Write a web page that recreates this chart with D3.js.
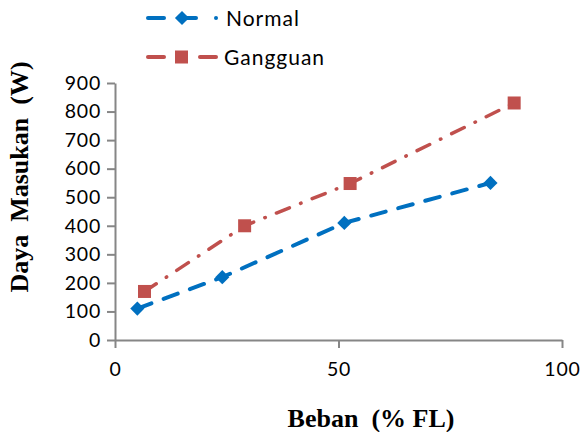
<!DOCTYPE html>
<html>
<head>
<meta charset="utf-8">
<script src="https://cdn.jsdelivr.net/npm/d3@7"></script>
<style>
  body { margin: 0; background: #fff; }
  .tick text { font-family: Lato, "Open Sans", sans-serif; font-size: 19.5px; letter-spacing: 0.8px; fill: #000; }
  .axis path, .axis line { stroke: #868686; stroke-width: 2; }
  .title { font-family: "Liberation Serif", "DejaVu Serif", serif; font-weight: bold; font-size: 26px; white-space: pre; }
</style>
</head>
<body>
<div id="chart"></div>
<script>
// values
var seriesNames = ["Normal", "Gangguan"];
var normalX = [5, 24, 51.3, 84];
var normalY = [110, 220, 410, 550];
var gangguanX = [6.6, 29, 52.6, 89.3];
var gangguanY = [170, 400, 548, 830];
var xTicks = [0, 50, 100];
var yTicks = [0, 100, 200, 300, 400, 500, 600, 700, 800, 900];

var width = 585, height = 432;
var margin = {top: 83, right: 23, bottom: 92, left: 115};

var svg = d3.select("#chart").append("svg")
    .attr("width", width)
    .attr("height", height);

var x = d3.scaleLinear().domain([0, 100]).range([margin.left, width - margin.right]);
var y = d3.scaleLinear().domain([0, 900]).range([height - margin.bottom, margin.top]);

// axes
svg.append("g")
    .attr("class", "axis")
    .attr("transform", "translate(0," + y(0) + ")")
    .call(d3.axisBottom(x).tickValues(xTicks).tickSize(8).tickPadding(14).tickSizeOuter(0))
    .call(function(g) { g.selectAll("text").attr("dy", "0.71em"); });

svg.append("g")
    .attr("class", "axis")
    .attr("transform", "translate(" + x(0) + ",0)")
    .call(d3.axisLeft(y).tickValues(yTicks).tickSize(8).tickPadding(6).tickSizeOuter(0));

// axis titles
svg.append("text")
    .attr("class", "title")
    .attr("transform", "translate(28,177) rotate(-90)")
    .attr("text-anchor", "middle")
    .text("Daya  Masukan  (W)");

svg.append("text")
    .attr("class", "title")
    .attr("x", 371)
    .attr("y", 427)
    .attr("text-anchor", "middle")
    .text("Beban  (% FL)");

var line = d3.line()
    .x(function(d) { return x(d[0]); })
    .y(function(d) { return y(d[1]); });

var normal = d3.zip(normalX, normalY);
var gangguan = d3.zip(gangguanX, gangguanY);

var blue = "#0070c0", red = "#c0504d";

svg.append("path")
    .datum(gangguan)
    .attr("d", line)
    .attr("fill", "none")
    .attr("stroke", red)
    .attr("stroke-width", 3.5)
    .attr("stroke-linecap", "round")
    .attr("stroke-dasharray", "14,12,0.5,12");

svg.append("path")
    .datum(normal)
    .attr("d", line)
    .attr("fill", "none")
    .attr("stroke", blue)
    .attr("stroke-width", 4)
    .attr("stroke-linecap", "round")
    .attr("stroke-dasharray", "15,13");

// diamond marker: square turned 45 degrees
var diamond = d3.symbol().type(d3.symbolSquare).size(100);

svg.selectAll(".pt-normal")
    .data(normal)
    .enter().append("path")
    .attr("class", "pt-normal")
    .attr("transform", function(d) { return "translate(" + x(d[0]) + "," + y(d[1]) + ") rotate(45)"; })
    .attr("d", diamond)
    .attr("fill", blue);

svg.selectAll(".pt-gangguan")
    .data(gangguan)
    .enter().append("rect")
    .attr("class", "pt-gangguan")
    .attr("x", function(d) { return x(d[0]) - 6.5; })
    .attr("y", function(d) { return y(d[1]) - 6.5; })
    .attr("width", 13)
    .attr("height", 13)
    .attr("fill", red);

// legend
var legend = svg.append("g");
var lgY = [18, 57];

legend.append("line").attr("x1", 148).attr("x2", 164).attr("y1", lgY[0]).attr("y2", lgY[0])
    .attr("stroke", blue).attr("stroke-width", 4).attr("stroke-linecap", "round");
legend.append("line").attr("x1", 182).attr("x2", 196).attr("y1", lgY[0]).attr("y2", lgY[0])
    .attr("stroke", blue).attr("stroke-width", 4).attr("stroke-linecap", "round");
legend.append("circle").attr("cx", 216).attr("cy", lgY[0]).attr("r", 2).attr("fill", blue);
legend.append("path").attr("d", diamond)
    .attr("transform", "translate(182," + lgY[0] + ") rotate(45)").attr("fill", blue);

legend.append("line").attr("x1", 148).attr("x2", 164).attr("y1", lgY[1]).attr("y2", lgY[1])
    .attr("stroke", red).attr("stroke-width", 4).attr("stroke-linecap", "round");
legend.append("line").attr("x1", 200).attr("x2", 216).attr("y1", lgY[1]).attr("y2", lgY[1])
    .attr("stroke", red).attr("stroke-width", 4).attr("stroke-linecap", "round");
legend.append("rect").attr("x", 175).attr("y", lgY[1] - 6.5).attr("width", 13).attr("height", 13)
    .attr("fill", red);

legend.selectAll("text")
    .data(seriesNames)
    .enter().append("text")
    .attr("x", function(d, i) { return i === 0 ? 226 : 224; })
    .attr("y", function(d, i) { return lgY[i]; })
    .attr("dy", "0.36em")
    .style("font-family", "Lato, 'Open Sans', sans-serif")
    .style("font-size", "21px")
    .style("letter-spacing", "1px")
    .text(function(d) { return d; });
</script>
</body>
</html>
